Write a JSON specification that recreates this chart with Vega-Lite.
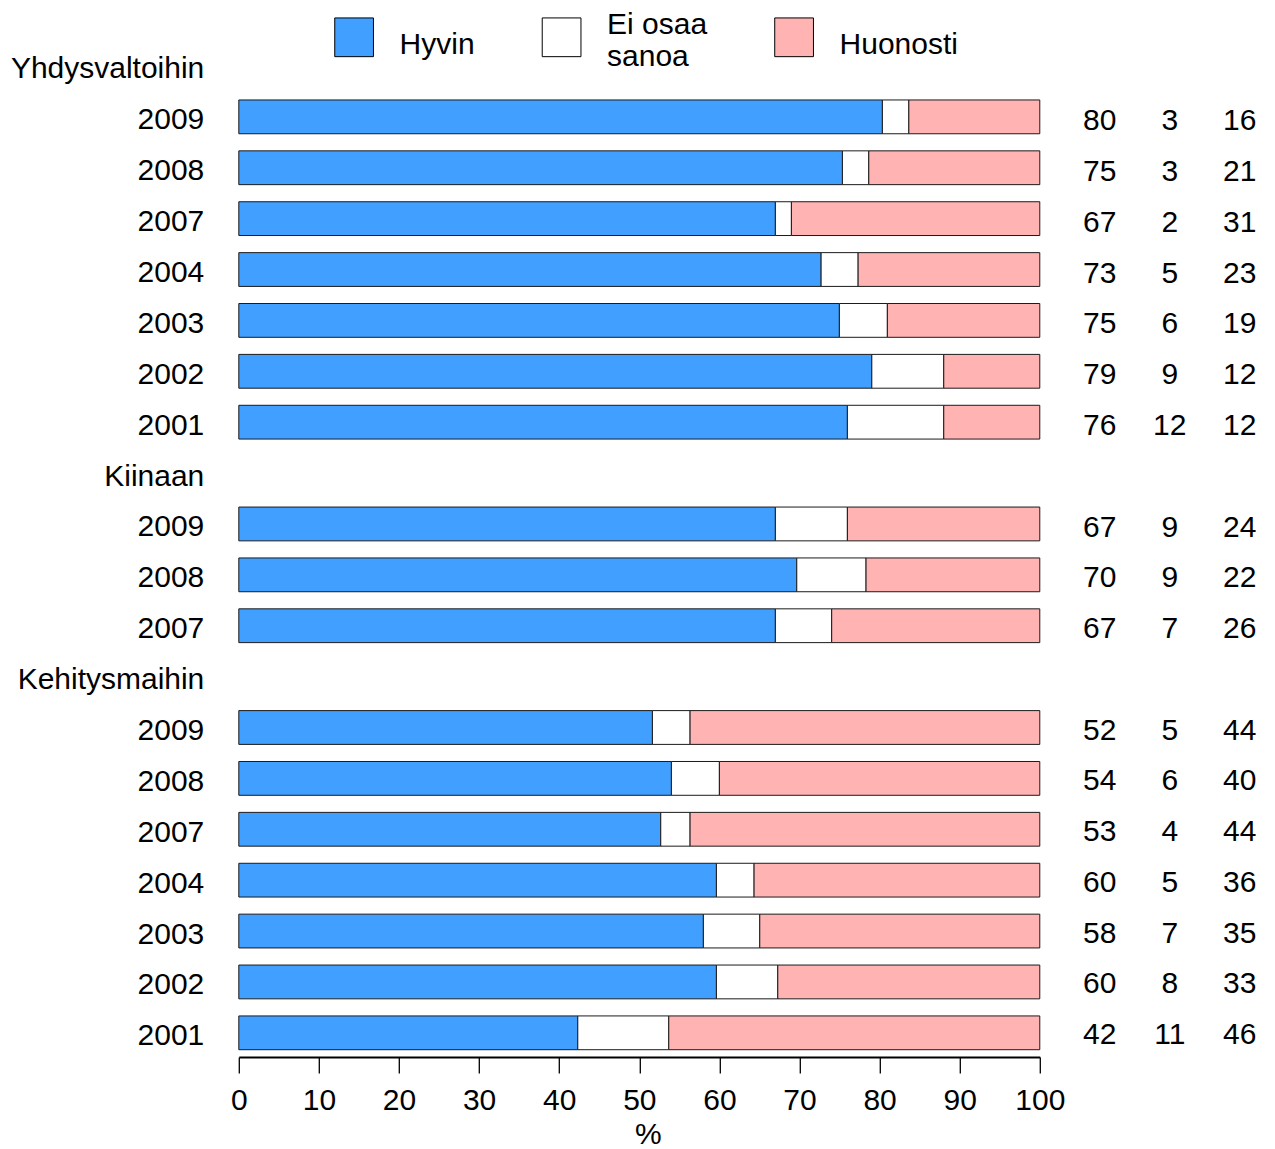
{
  "$schema": "https://vega.github.io/schema/vega-lite/v6.json",
  "padding": {"left": 9.8, "top": 16.7, "right": 0, "bottom": 0},
  "background": "white",
  "bounds": "flush",
  "spacing": 25,
  "config": {
    "view": {"stroke": null},
    "font": "Liberation Sans"
  },
  "data": {
    "values": [
      {"k": "Y|2009", "cat": "Hyvin", "o": 1, "v": 80.35, "n": 80},
      {"k": "Y|2009", "cat": "Ei osaa sanoa", "o": 2, "v": 3.30, "n": 3},
      {"k": "Y|2009", "cat": "Huonosti", "o": 3, "v": 16.35, "n": 16},
      {"k": "Y|2008", "cat": "Hyvin", "o": 1, "v": 75.36, "n": 75},
      {"k": "Y|2008", "cat": "Ei osaa sanoa", "o": 2, "v": 3.29, "n": 3},
      {"k": "Y|2008", "cat": "Huonosti", "o": 3, "v": 21.35, "n": 21},
      {"k": "Y|2007", "cat": "Hyvin", "o": 1, "v": 66.99, "n": 67},
      {"k": "Y|2007", "cat": "Ei osaa sanoa", "o": 2, "v": 2.00, "n": 2},
      {"k": "Y|2007", "cat": "Huonosti", "o": 3, "v": 31.01, "n": 31},
      {"k": "Y|2004", "cat": "Hyvin", "o": 1, "v": 72.70, "n": 73},
      {"k": "Y|2004", "cat": "Ei osaa sanoa", "o": 2, "v": 4.62, "n": 5},
      {"k": "Y|2004", "cat": "Huonosti", "o": 3, "v": 22.68, "n": 23},
      {"k": "Y|2003", "cat": "Hyvin", "o": 1, "v": 74.98, "n": 75},
      {"k": "Y|2003", "cat": "Ei osaa sanoa", "o": 2, "v": 5.99, "n": 6},
      {"k": "Y|2003", "cat": "Huonosti", "o": 3, "v": 19.03, "n": 19},
      {"k": "Y|2002", "cat": "Hyvin", "o": 1, "v": 79.03, "n": 79},
      {"k": "Y|2002", "cat": "Ei osaa sanoa", "o": 2, "v": 8.98, "n": 9},
      {"k": "Y|2002", "cat": "Huonosti", "o": 3, "v": 11.99, "n": 12},
      {"k": "Y|2001", "cat": "Hyvin", "o": 1, "v": 75.98, "n": 76},
      {"k": "Y|2001", "cat": "Ei osaa sanoa", "o": 2, "v": 12.03, "n": 12},
      {"k": "Y|2001", "cat": "Huonosti", "o": 3, "v": 11.99, "n": 12},
      {"k": "K|2009", "cat": "Hyvin", "o": 1, "v": 66.99, "n": 67},
      {"k": "K|2009", "cat": "Ei osaa sanoa", "o": 2, "v": 8.99, "n": 9},
      {"k": "K|2009", "cat": "Huonosti", "o": 3, "v": 24.02, "n": 24},
      {"k": "K|2008", "cat": "Hyvin", "o": 1, "v": 69.66, "n": 70},
      {"k": "K|2008", "cat": "Ei osaa sanoa", "o": 2, "v": 8.65, "n": 9},
      {"k": "K|2008", "cat": "Huonosti", "o": 3, "v": 21.69, "n": 22},
      {"k": "K|2007", "cat": "Hyvin", "o": 1, "v": 66.99, "n": 67},
      {"k": "K|2007", "cat": "Ei osaa sanoa", "o": 2, "v": 7.03, "n": 7},
      {"k": "K|2007", "cat": "Huonosti", "o": 3, "v": 25.98, "n": 26},
      {"k": "E|2009", "cat": "Hyvin", "o": 1, "v": 51.64, "n": 52},
      {"k": "E|2009", "cat": "Ei osaa sanoa", "o": 2, "v": 4.70, "n": 5},
      {"k": "E|2009", "cat": "Huonosti", "o": 3, "v": 43.66, "n": 44},
      {"k": "E|2008", "cat": "Hyvin", "o": 1, "v": 54.01, "n": 54},
      {"k": "E|2008", "cat": "Ei osaa sanoa", "o": 2, "v": 5.99, "n": 6},
      {"k": "E|2008", "cat": "Huonosti", "o": 3, "v": 40.00, "n": 40},
      {"k": "E|2007", "cat": "Hyvin", "o": 1, "v": 52.68, "n": 53},
      {"k": "E|2007", "cat": "Ei osaa sanoa", "o": 2, "v": 3.66, "n": 4},
      {"k": "E|2007", "cat": "Huonosti", "o": 3, "v": 43.66, "n": 44},
      {"k": "E|2004", "cat": "Hyvin", "o": 1, "v": 59.63, "n": 60},
      {"k": "E|2004", "cat": "Ei osaa sanoa", "o": 2, "v": 4.70, "n": 5},
      {"k": "E|2004", "cat": "Huonosti", "o": 3, "v": 35.67, "n": 36},
      {"k": "E|2003", "cat": "Hyvin", "o": 1, "v": 58.00, "n": 58},
      {"k": "E|2003", "cat": "Ei osaa sanoa", "o": 2, "v": 7.04, "n": 7},
      {"k": "E|2003", "cat": "Huonosti", "o": 3, "v": 34.96, "n": 35},
      {"k": "E|2002", "cat": "Hyvin", "o": 1, "v": 59.63, "n": 60},
      {"k": "E|2002", "cat": "Ei osaa sanoa", "o": 2, "v": 7.66, "n": 8},
      {"k": "E|2002", "cat": "Huonosti", "o": 3, "v": 32.71, "n": 33},
      {"k": "E|2001", "cat": "Hyvin", "o": 1, "v": 42.32, "n": 42},
      {"k": "E|2001", "cat": "Ei osaa sanoa", "o": 2, "v": 11.36, "n": 11},
      {"k": "E|2001", "cat": "Huonosti", "o": 3, "v": 46.32, "n": 46}
    ]
  },
  "hconcat": [
    {
      "width": 801,
      "height": 1015.4,
      "mark": {"type": "bar", "stroke": "#1a1a1a", "strokeWidth": 1},
      "encoding": {
        "y": {
          "field": "k",
          "type": "nominal",
          "sort": null,
          "scale": {
            "domain": ["Yhdysvaltoihin", "Y|2009", "Y|2008", "Y|2007", "Y|2004", "Y|2003", "Y|2002", "Y|2001", "Kiinaan", "K|2009", "K|2008", "K|2007", "Kehitysmaihin", "E|2009", "E|2008", "E|2007", "E|2004", "E|2003", "E|2002", "E|2001"],
            "paddingInner": 0.336,
            "paddingOuter": 0.145
          },
          "axis": {
            "title": null,
            "domain": false,
            "ticks": false,
            "tickSize": 0,
            "labelPadding": 35,
            "labelFontSize": 30,
            "labelFont": "Liberation Sans",
            "labelColor": "black",
            "labelLimit": 400,
            "labelOffset": 3.5,
            "labelExpr": "indexof(datum.label, '|') >= 0 ? split(datum.label, '|')[1] : datum.label"
          }
        },
        "x": {
          "field": "v",
          "type": "quantitative",
          "stack": "zero",
          "scale": {"domain": [0, 100], "nice": false, "zero": true},
          "axis": {
            "title": "%",
            "values": [0, 10, 20, 30, 40, 50, 60, 70, 80, 90, 100],
            "grid": false,
            "domain": true,
            "domainColor": "black",
            "domainWidth": 2,
            "ticks": true,
            "tickColor": "black",
            "tickSize": 16,
            "tickWidth": 1.3,
            "labelPadding": 12,
            "labelFontSize": 30,
            "labelFont": "Liberation Sans",
            "labelColor": "black",
            "labelFlush": false,
            "labelOverlap": false,
            "titleFontSize": 30,
            "titleFont": "Liberation Sans",
            "titleFontWeight": "normal",
            "titleColor": "black",
            "titleX": 409,
            "titleY": 86,
            "titleBaseline": "alphabetic"
          }
        },
        "color": {
          "field": "cat",
          "type": "nominal",
          "scale": {
            "domain": ["Hyvin", "Ei osaa sanoa", "Huonosti"],
            "range": ["#409FFF", "#FFFFFF", "#FFB3B3"]
          },
          "legend": {
            "title": null,
            "orient": "none",
            "legendX": 95.3,
            "legendY": -24.6,
            "direction": "horizontal",
            "padding": 0,
            "symbolType": "square",
            "symbolSize": 1500,
            "symbolStrokeColor": "black",
            "symbolStrokeWidth": 1,
            "symbolOpacity": 1,
            "labelFontSize": 30,
            "labelFont": "Liberation Sans",
            "labelColor": "black",
            "labelOffset": 25.5,
            "labelLimit": 400,
            "columnPadding": 64.5,
            "labelBaseline": "middle",
            "labelExpr": "datum.label == 'Ei osaa sanoa' ? ['Ei osaa', 'sanoa'] : [datum.label, '']",
            "encode": {
              "labels": {
                "update": {
                  "lineHeight": {"signal": "datum.value === 'Ei osaa sanoa' ? 32 : 12"},
                  "dy": {"signal": "datum.value === 'Ei osaa sanoa' ? -12.4 : 7.6"}
                }
              }
            }
          }
        },
        "order": {"field": "o", "type": "quantitative"}
      }
    },
    {
      "width": 210,
      "height": 1015.4,
      "mark": {"type": "text", "fontSize": 30, "font": "Liberation Sans", "color": "black", "align": "center", "baseline": "middle", "dy": 3.5},
      "encoding": {
        "y": {
          "field": "k",
          "type": "nominal",
          "sort": null,
          "scale": {
            "domain": ["Yhdysvaltoihin", "Y|2009", "Y|2008", "Y|2007", "Y|2004", "Y|2003", "Y|2002", "Y|2001", "Kiinaan", "K|2009", "K|2008", "K|2007", "Kehitysmaihin", "E|2009", "E|2008", "E|2007", "E|2004", "E|2003", "E|2002", "E|2001"],
            "paddingInner": 0.336,
            "paddingOuter": 0.145
          },
          "axis": null
        },
        "x": {
          "field": "cat",
          "type": "nominal",
          "sort": null,
          "scale": {"domain": ["Hyvin", "Ei osaa sanoa", "Huonosti"], "paddingInner": 0, "paddingOuter": 0},
          "axis": null
        },
        "text": {"field": "n", "type": "quantitative"}
      }
    }
  ],
  "resolve": {"scale": {"y": "independent", "x": "independent"}}
}
